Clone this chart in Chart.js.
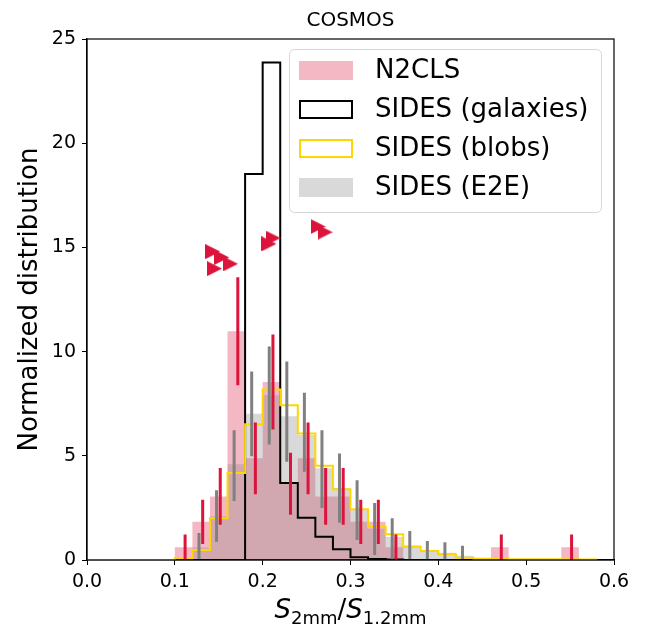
<!DOCTYPE html>
<html>
<head>
<meta charset="utf-8">
<title>COSMOS</title>
<script src="https://cdn.jsdelivr.net/npm/chart.js@4.4.1/dist/chart.umd.min.js"></script>
<style>
  html, body { margin: 0; padding: 0; background: #fff; }
</style>
</head>
<body>
<canvas id="histChart" width="651" height="630"></canvas>
<script>
// bin edges, width 0.02
const binEdges = [0.00, 0.02, 0.04, 0.06, 0.08, 0.10, 0.12, 0.14, 0.16, 0.18,
                  0.20, 0.22, 0.24, 0.26, 0.28, 0.30, 0.32, 0.34, 0.36, 0.38,
                  0.40, 0.42, 0.44, 0.46, 0.48, 0.50, 0.52, 0.54, 0.56, 0.58];

const n2cls = [0, 0, 0, 0, 0, 0.61, 1.83, 3.05, 10.98, 4.88,
               8.54, 3.66, 4.88, 3.05, 3.05, 1.83, 1.83, 0.61, 0, 0,
               0, 0, 0, 0.61, 0, 0, 0, 0.61, 0];
const n2clsErr = [0, 0, 0, 0, 0, 0.61, 1.06, 1.36, 2.59, 1.72,
                  2.28, 1.49, 1.72, 1.36, 1.36, 1.06, 1.06, 0.61, 0, 0,
                  0, 0, 0, 0.61, 0, 0, 0, 0.61, 0];

const sidesGalaxies = [0, 0, 0, 0, 0, 0, 0, 0, 0, 18.52,
                       23.87, 3.70, 2.03, 1.12, 0.51, 0.13, 0.05, 0.02, 0, 0,
                       0, 0, 0, 0, 0, 0, 0, 0, 0];

const sidesBlobs = [0, 0, 0, 0, 0, 0.08, 0.48, 2.00, 4.18, 6.51,
                    8.18, 7.42, 6.07, 4.52, 3.40, 2.44, 1.60, 1.23, 0.64, 0.43,
                    0.27, 0.11, 0.06, 0.06, 0.04, 0.04, 0.04, 0.04, 0.02];

const sidesE2E = [0, 0, 0, 0, 0, 0.10, 0.60, 2.10, 4.60, 7.02,
                  7.92, 6.90, 6.00, 4.40, 3.45, 2.40, 1.50, 1.10, 0.70, 0.45,
                  0.35, 0.20, 0.10, 0.06, 0.04, 0.04, 0.04, 0.04, 0.02];
const e2eLow  = [null, null, null, null, null, null, 0.03, 0.88, 2.83, 4.98,
                 5.54, 4.71, 4.23, 2.50, 1.79, 0.96, 0.24, 0.03, 0.03, 0.03,
                 0.03, 0.03, null, null, null, null, null, null, null];
const e2eHigh = [null, null, null, null, null, null, 1.30, 3.35, 6.23, 9.05,
                 10.25, 9.53, 8.03, 6.23, 5.11, 3.83, 2.74, 2.00, 1.39, 0.91,
                 0.85, 0.68, null, null, null, null, null, null, null];

// individual N2CLS sources drawn as right-pointing triangles
const limitX = [0.1432, 0.1534, 0.1634, 0.1452, 0.2072, 0.2118, 0.2631, 0.2711];
const limitY = [14.80, 14.52, 14.21, 13.98, 15.17, 15.45, 16.00, 15.73];

const xTicks = [0.0, 0.1, 0.2, 0.3, 0.4, 0.5, 0.6];
const yTicks = [0, 5, 10, 15, 20, 25];

const FONT = '"DejaVu Sans", sans-serif';
const CRIMSON = 'rgb(220,20,60)';
const PINK = 'rgba(220,20,60,0.3)';
const GREY = 'rgba(128,128,128,0.3)';
const GOLD = '#ffd700';

Chart.defaults.font.family = FONT;
Chart.defaults.color = '#000';

// histogram outline as a stepped polyline over bin edges
function stepPoints(values) {
  const n = values.length;
  const pts = [{x: binEdges[0], y: 0}];
  values.forEach((v, i) => pts.push({x: binEdges[i], y: v}));
  pts.push({x: binEdges[n], y: values[n - 1]});
  pts.push({x: binEdges[n], y: 0});
  return pts;
}

// vertical error segments separated by gaps
function errorPoints(lows, highs, shift) {
  const pts = [];
  lows.forEach((lo, i) => {
    if (lo === null || highs[i] === null) return;
    const x = (binEdges[i] + binEdges[i + 1]) / 2 + shift;
    pts.push({x, y: lo}, {x, y: highs[i]}, {x, y: null});
  });
  return pts;
}

function triangleMarker(size, color) {
  const c = document.createElement('canvas');
  c.width = size;
  c.height = size;
  const g = c.getContext('2d');
  g.fillStyle = color;
  g.beginPath();
  g.moveTo(0, 0);
  g.lineTo(size, size / 2);
  g.lineTo(0, size);
  g.closePath();
  g.fill();
  return c;
}

const n2clsLow = n2cls.map((v, i) => n2clsErr[i] > 0 ? v - n2clsErr[i] : null);
const n2clsHigh = n2cls.map((v, i) => n2clsErr[i] > 0 ? v + n2clsErr[i] : null);

const legendItems = [
  {label: 'N2CLS', fill: PINK, stroke: null},
  {label: 'SIDES (galaxies)', fill: null, stroke: '#000'},
  {label: 'SIDES (blobs)', fill: null, stroke: GOLD},
  {label: 'SIDES (E2E)', fill: GREY, stroke: null}
];

const axesDecor = {
  id: 'axesDecor',
  afterDatasetsDraw(chart) {
    const {ctx, chartArea: a} = chart;
    ctx.save();
    ctx.strokeStyle = '#000';
    ctx.lineWidth = 1.2;
    ctx.strokeRect(a.left, a.top, a.right - a.left, a.bottom - a.top);
    ctx.restore();
  },
  afterDraw(chart) {
    const {ctx, chartArea: a} = chart;
    const cx = (a.left + a.right) / 2;
    ctx.save();
    ctx.fillStyle = '#000';

    // title
    ctx.font = '20px ' + FONT;
    ctx.textAlign = 'center';
    ctx.textBaseline = 'alphabetic';
    ctx.fillText('COSMOS', cx, a.top - 13);

    // x label with subscripts
    const big = 26, small = 18;
    const parts = [
      {t: 'S', f: 'italic ' + big + 'px ' + FONT, dy: 0},
      {t: '2mm', f: small + 'px ' + FONT, dy: 6},
      {t: '/', f: big + 'px ' + FONT, dy: 0},
      {t: 'S', f: 'italic ' + big + 'px ' + FONT, dy: 0},
      {t: '1.2mm', f: small + 'px ' + FONT, dy: 6}
    ];
    let total = 0;
    parts.forEach(p => { ctx.font = p.f; p.w = ctx.measureText(p.t).width; total += p.w; });
    let x = cx - total / 2;
    const base = a.bottom + 58;
    ctx.textAlign = 'left';
    parts.forEach(p => { ctx.font = p.f; ctx.fillText(p.t, x, base + p.dy); x += p.w; });

    // legend
    const boxW = 312, boxH = 163;
    const bx = a.right - 13 - boxW, by = a.top + 10;
    ctx.beginPath();
    ctx.roundRect(bx + 0.5, by + 0.5, boxW, boxH, 5);
    ctx.fillStyle = 'rgba(255,255,255,0.8)';
    ctx.fill();
    ctx.strokeStyle = '#d6d6d6';
    ctx.lineWidth = 1;
    ctx.stroke();
    ctx.font = '26px ' + FONT;
    ctx.textBaseline = 'middle';
    legendItems.forEach((it, i) => {
      const rowY = by + 21.5 + 39 * i;
      const px = bx + 10, pw = 54, ph = 19;
      if (it.fill) {
        ctx.fillStyle = it.fill;
        ctx.fillRect(px, rowY - ph / 2, pw, ph);
      }
      if (it.stroke) {
        ctx.strokeStyle = it.stroke;
        ctx.lineWidth = 2;
        ctx.strokeRect(px + 1, rowY - ph / 2 + 1, pw - 2, ph - 2);
      }
      ctx.fillStyle = '#000';
      ctx.fillText(it.label, bx + 86, rowY + 1);
    });
    ctx.restore();
  }
};

new Chart(document.getElementById('histChart').getContext('2d'), {
  type: 'line',
  data: {
    datasets: [
      {
        label: 'limits',
        type: 'scatter',
        data: limitX.map((x, i) => ({x, y: limitY[i]})),
        pointStyle: triangleMarker(15, CRIMSON),
        pointRadius: 7,
        order: 0
      },
      {
        label: 'N2CLS errors',
        data: errorPoints(n2clsLow, n2clsHigh, 0.0017),
        borderColor: CRIMSON,
        borderWidth: 3,
        pointRadius: 0,
        spanGaps: false,
        order: 1
      },
      {
        label: 'E2E errors',
        data: errorPoints(e2eLow, e2eHigh, -0.0025),
        borderColor: 'rgb(128,128,128)',
        borderWidth: 3,
        pointRadius: 0,
        spanGaps: false,
        order: 2
      },
      {
        label: 'SIDES (blobs)',
        data: stepPoints(sidesBlobs),
        borderColor: GOLD,
        borderWidth: 2,
        stepped: true,
        pointRadius: 0,
        fill: false,
        order: 3
      },
      {
        label: 'SIDES (galaxies)',
        data: stepPoints(sidesGalaxies),
        borderColor: '#000',
        borderWidth: 2,
        stepped: true,
        pointRadius: 0,
        fill: false,
        order: 4
      },
      {
        label: 'SIDES (E2E)',
        data: stepPoints(sidesE2E),
        borderWidth: 0,
        borderColor: 'rgba(0,0,0,0)',
        backgroundColor: GREY,
        stepped: true,
        pointRadius: 0,
        fill: 'origin',
        order: 5
      },
      {
        label: 'N2CLS',
        data: stepPoints(n2cls),
        borderWidth: 0,
        borderColor: 'rgba(0,0,0,0)',
        backgroundColor: PINK,
        stepped: true,
        pointRadius: 0,
        fill: 'origin',
        order: 6
      }
    ]
  },
  options: {
    responsive: false,
    animation: false,
    layout: { padding: { top: 39, right: 37, bottom: 0, left: 0 } },
    plugins: {
      legend: { display: false },
      tooltip: { enabled: false }
    },
    scales: {
      x: {
        type: 'linear',
        min: 0,
        max: 0.6,
        afterBuildTicks: s => { s.ticks = xTicks.map(v => ({value: v})); },
        afterFit: s => { s.height = 70; },
        ticks: {
          font: { size: 19 },
          color: '#000',
          padding: 6,
          maxRotation: 0,
          callback: v => Number(v).toFixed(1)
        },
        grid: { drawOnChartArea: false, tickLength: 5, tickColor: '#000' },
        border: { display: true, color: '#000', width: 1.2 }
      },
      y: {
        type: 'linear',
        min: 0,
        max: 25,
        afterBuildTicks: s => { s.ticks = yTicks.map(v => ({value: v})); },
        afterFit: s => { s.width = 87; },
        ticks: { font: { size: 19 }, color: '#000', padding: 6 },
        grid: { drawOnChartArea: false, tickLength: 5, tickColor: '#000' },
        border: { display: true, color: '#000', width: 1.2 },
        title: {
          display: true,
          text: 'Normalized distribution',
          font: { size: 26 },
          color: '#000',
          padding: { top: 15, bottom: 0 }
        }
      }
    }
  },
  plugins: [axesDecor]
});
</script>
</body>
</html>
